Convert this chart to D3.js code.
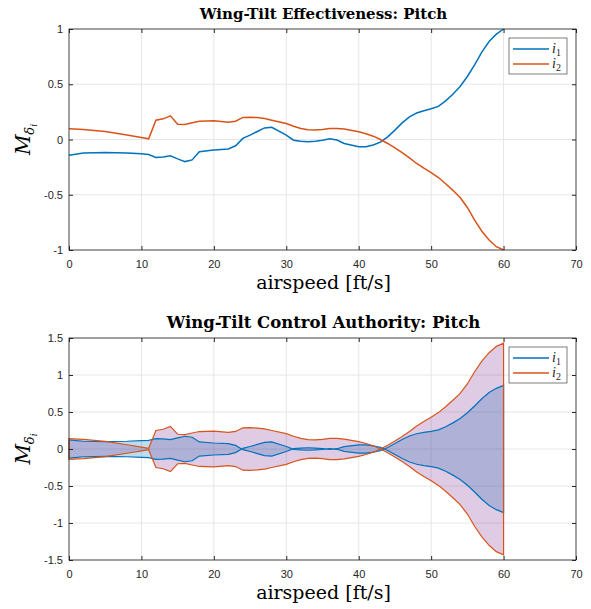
<!DOCTYPE html>
<html>
<head>
<meta charset="utf-8">
<script src="https://cdn.jsdelivr.net/npm/d3@7"></script>
<style>
  body { margin: 0; background: #fff; }
  svg { display: block; }
</style>
</head>
<body>
<svg id="chart" width="591" height="609"></svg>
<script>
// Airspeed samples [ft/s]
const speeds = [0, 2, 5, 8, 10, 11, 12, 13, 14, 15, 16, 17, 18, 20, 22, 23, 24, 25, 26, 27, 28,
  30, 31, 32, 33, 34, 35, 36, 37, 38, 40, 41, 42, 43, 44, 45, 46, 47, 48, 49, 50,
  51, 52, 53, 54, 55, 56, 57, 58, 59, 60];

// Effectiveness (top panel)
const effect1 = [-0.142, -0.122, -0.118, -0.122, -0.13, -0.136, -0.163, -0.158, -0.148, -0.175, -0.2,
  -0.185, -0.11, -0.094, -0.085, -0.057, 0.01, 0.04, 0.072, 0.105, 0.11,
  0.04, -0.006, -0.015, -0.02, -0.015, -0.006, 0.006, -0.005, -0.036, -0.066,
  -0.066, -0.05, -0.024, 0.024, 0.085, 0.15, 0.205, 0.24, 0.26, 0.278,
  0.3, 0.35, 0.41, 0.48, 0.57, 0.675, 0.79, 0.887, 0.953, 1.0];
const effect2 = [0.097, 0.09, 0.072, 0.04, 0.018, 0.006, 0.175, 0.187, 0.214, 0.139, 0.136,
  0.151, 0.165, 0.169, 0.157, 0.166, 0.2, 0.202, 0.198, 0.19, 0.175,
  0.145, 0.12, 0.1, 0.088, 0.085, 0.09, 0.1, 0.1, 0.094, 0.07,
  0.052, 0.03, 0.0, -0.036, -0.075, -0.118, -0.166, -0.217, -0.26, -0.3,
  -0.344, -0.4, -0.46, -0.525, -0.615, -0.73, -0.83, -0.91, -0.97, -1.0];

// Control authority (bottom panel), drawn as +/- bands
const authority1 = [-0.122, -0.105, -0.101, -0.105, -0.112, -0.117, -0.14, -0.136, -0.127, -0.151, -0.172,
  -0.159, -0.095, -0.081, -0.073, -0.049, 0.009, 0.034, 0.062, 0.09, 0.095,
  0.034, -0.005, -0.013, -0.017, -0.013, -0.005, 0.005, -0.004, -0.031, -0.057,
  -0.057, -0.043, -0.021, 0.021, 0.073, 0.129, 0.176, 0.206, 0.224, 0.239,
  0.258, 0.301, 0.353, 0.413, 0.49, 0.581, 0.679, 0.763, 0.82, 0.86];
const authority2 = [0.139, 0.129, 0.103, 0.057, 0.026, 0.009, 0.25, 0.267, 0.306, 0.199, 0.194,
  0.216, 0.236, 0.242, 0.225, 0.237, 0.286, 0.289, 0.283, 0.272, 0.25,
  0.207, 0.172, 0.143, 0.126, 0.122, 0.129, 0.143, 0.143, 0.134, 0.1,
  0.074, 0.043, 0.0, -0.051, -0.107, -0.169, -0.237, -0.31, -0.372, -0.429,
  -0.492, -0.572, -0.658, -0.751, -0.879, -1.044, -1.187, -1.301, -1.387, -1.43];

const xTicks = [0, 10, 20, 30, 40, 50, 60, 70];
const yTicksTop = [-1, -0.5, 0, 0.5, 1];
const yTicksBottom = [-1.5, -1, -0.5, 0, 0.5, 1, 1.5];
const seriesNames = ["1", "2"];
const colors = ["#0072BD", "#D95319"];

const svg = d3.select("#chart");
const axisColor = "#262626";
const serif = "'DejaVu Serif', 'Liberation Serif', serif";
const left = 69, right = 576;

// Draw one axes panel (grid only) and return its scales
function drawPanel(top, bottom, yDomain, yTicks, title, titleSize) {
  const x = d3.scaleLinear().domain([0, 70]).range([left, right]);
  const y = d3.scaleLinear().domain(yDomain).range([bottom, top]);
  const g = svg.append("g");

  g.selectAll(".vgrid").data(xTicks).enter().append("line")
    .attr("x1", d => x(d)).attr("x2", d => x(d))
    .attr("y1", top).attr("y2", bottom)
    .attr("stroke", "#e6e6e6");
  g.selectAll(".hgrid").data(yTicks).enter().append("line")
    .attr("x1", left).attr("x2", right)
    .attr("y1", d => y(d)).attr("y2", d => y(d))
    .attr("stroke", "#e6e6e6");

  return { g, x, y, top, bottom, title, titleSize, yTicks };
}

// Axes, box, labels and legend go on top of the data
function finishPanel(p) {
  const { g, x, y, top, bottom, title, titleSize, yTicks } = p;
  const fmt = d => d3.format("")(d).replace("−", "-");

  const ax = [
    g.append("g").attr("transform", `translate(0,${bottom})`)
      .call(d3.axisBottom(x).tickValues(xTicks).tickFormat(fmt).tickSizeInner(-4).tickSizeOuter(0).tickPadding(10)),
    g.append("g").attr("transform", `translate(0,${top})`)
      .call(d3.axisTop(x).tickValues(xTicks).tickFormat("").tickSizeInner(-4).tickSizeOuter(0)),
    g.append("g").attr("transform", `translate(${left},0)`)
      .call(d3.axisLeft(y).tickValues(yTicks).tickFormat(fmt).tickSizeInner(-4).tickSizeOuter(0).tickPadding(6)),
    g.append("g").attr("transform", `translate(${right},0)`)
      .call(d3.axisRight(y).tickValues(yTicks).tickFormat("").tickSizeInner(-4).tickSizeOuter(0))
  ];
  ax.forEach(a => {
    a.select(".domain").remove();
    a.selectAll("line").attr("stroke", axisColor);
    a.selectAll("text").attr("fill", axisColor)
      .style("font-family", "'Liberation Sans', Arial, sans-serif").style("font-size", "11px");
  });

  g.append("rect")
    .attr("x", left).attr("y", top)
    .attr("width", right - left).attr("height", bottom - top)
    .attr("fill", "none").attr("stroke", axisColor).attr("stroke-width", 0.8);

  // title
  g.append("text")
    .attr("x", (left + right) / 2 + 1).attr("y", top - 10)
    .attr("text-anchor", "middle")
    .style("font-family", serif)
    .style("font-weight", "bold").style("font-size", titleSize + "px")
    .text(title);

  // x label
  g.append("text")
    .attr("x", (left + right) / 2 + 1).attr("y", bottom + 39)
    .attr("text-anchor", "middle")
    .style("font-family", serif)
    .style("font-size", "19px")
    .text("airspeed [ft/s]");

  // y label M_{delta_i}
  const yl = g.append("text")
    .attr("transform", `translate(30,${(top + bottom) / 2}) rotate(-90)`)
    .attr("text-anchor", "middle")
    .style("font-family", serif);
  yl.append("tspan").style("font-style", "italic").style("font-size", "20px").text("M");
  yl.append("tspan").style("font-style", "italic").style("font-size", "13px").attr("dy", 4).text("δ");
  yl.append("tspan").style("font-style", "italic").style("font-size", "9px").attr("dy", 3).text("i");

  // legend
  const lg = g.append("g").attr("transform", `translate(509,${top + 9})`);
  lg.append("rect").attr("width", 58).attr("height", 36)
    .attr("fill", "#fff").attr("stroke", axisColor).attr("stroke-width", 0.6);
  seriesNames.forEach((s, i) => {
    const yy = 11 + i * 15;
    lg.append("line").attr("x1", 4).attr("x2", 40).attr("y1", yy).attr("y2", yy)
      .attr("stroke", colors[i]).attr("stroke-width", 1.5);
    const t = lg.append("text").attr("x", 43).attr("y", yy + 4)
      .style("font-family", "'Liberation Serif', 'Times New Roman', serif").attr("fill", axisColor);
    t.append("tspan").style("font-style", "italic").style("font-size", "14px").text("i");
    t.append("tspan").style("font-size", "10px").attr("dy", 3).text(s);
  });
}

// ---- Top panel: effectiveness ----
const p1 = drawPanel(29, 250, [-1, 1], yTicksTop, "Wing-Tilt Effectiveness: Pitch", 15);
[effect1, effect2].forEach((vals, i) => {
  const line = d3.line().x((d, j) => p1.x(speeds[j])).y(d => p1.y(d));
  p1.g.append("path").datum(vals)
    .attr("d", line)
    .attr("fill", "none").attr("stroke", colors[i]).attr("stroke-width", 1.5);
});
finishPanel(p1);

// ---- Bottom panel: control authority bands ----
const p2 = drawPanel(338, 560, [-1.5, 1.5], yTicksBottom, "Wing-Tilt Control Authority: Pitch", 16.5);
const fills = [{ color: "#0072BD", opacity: 0.25 }, { color: "#7E2F8E", opacity: 0.25 }];
const bandArea = d3.area()
  .x((d, j) => p2.x(speeds[j]))
  .y0(d => p2.y(-d)).y1(d => p2.y(d));
[authority1, authority2].forEach((vals, i) => {
  p2.g.append("path").datum(vals)
    .attr("d", bandArea)
    .attr("fill", fills[i].color).attr("fill-opacity", fills[i].opacity).attr("stroke", "none");
});
[authority1, authority2].forEach((vals, i) => {
  // outline: upper edge, end cap, mirrored lower edge
  const pts = vals.map((d, j) => [p2.x(speeds[j]), p2.y(d)])
    .concat(vals.map((d, j) => [p2.x(speeds[j]), p2.y(-d)]).reverse());
  p2.g.append("path")
    .attr("d", d3.line()(pts) + "Z")
    .attr("fill", "none").attr("stroke", colors[i]).attr("stroke-width", 1.2);
});
finishPanel(p2);
</script>
</body>
</html>
